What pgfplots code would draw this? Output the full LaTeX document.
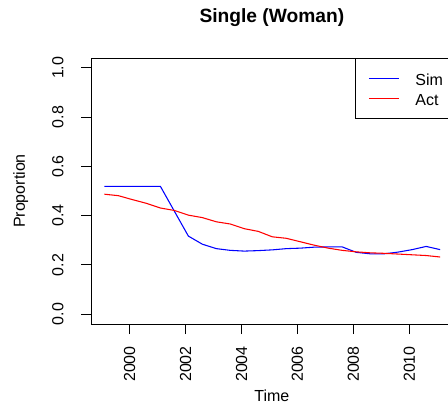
\documentclass[border=0pt]{standalone}
\usepackage{pgfplots}
\usepackage{pgfplotstable}
\pgfplotsset{compat=1.18}
\usepackage{fontspec}
\setmainfont{Liberation Sans}

% half-yearly proportions
\pgfplotstableread{
t      sim   act
1999.1 0.519 0.487
1999.6 0.519 0.481
2000.1 0.519 0.465
2000.6 0.519 0.450
2001.1 0.519 0.431
2001.6 0.418 0.421
2002.1 0.317 0.402
2002.6 0.284 0.392
2003.1 0.266 0.375
2003.6 0.259 0.366
2004.1 0.256 0.347
2004.6 0.258 0.336
2005.1 0.261 0.314
2005.6 0.266 0.308
2006.1 0.268 0.294
2006.6 0.272 0.280
2007.1 0.273 0.268
2007.6 0.273 0.259
2008.1 0.251 0.253
2008.6 0.245 0.249
2009.1 0.245 0.247
2009.6 0.252 0.244
2010.1 0.262 0.241
2010.6 0.275 0.238
2011.1 0.262 0.232
}\single

\begin{document}
\begin{tikzpicture}
\path[use as bounding box] (0,0) rectangle (336pt,303pt);
\clip (0,0) rectangle (336pt,303pt);
\begin{axis}[
  at={(68.25pt,60pt)}, anchor=south west,
  scale only axis,
  width=271.3pt, height=199.5pt,
  xmin=1998.62, xmax=2011.55,
  ymin=-0.04, ymax=1.04,
  xtick={2000,2002,2004,2006,2008,2010},
  xticklabels={2000,2002,2004,2006,2008,2010},
  ytick={0,0.2,0.4,0.6,0.8,1.0},
  yticklabels={0.0,0.2,0.4,0.6,0.8,1.0},
  xtick pos=bottom, ytick pos=left,
  tick align=outside,
  major tick length=7.5pt,
  tick style={black, line width=0.75pt},
  axis line style={line width=0.75pt},
  font=\fontsize{12}{14.4}\selectfont,
  xticklabel style={rotate=90, anchor=east, inner sep=0pt},
  yticklabel style={rotate=90, anchor=south, inner sep=0pt},
  xticklabel shift=9pt,
  yticklabel shift=13pt,
  xlabel={Time},
  xlabel style={at={(axis description cs:0.5,-0.2707)}, anchor=center},
  ylabel={Proportion},
  ylabel style={at={(axis description cs:-0.1944,0.5)}, anchor=center, rotate=0},
  title={Single (Woman)},
  every axis title shift=0pt,
  title style={at={(axis description cs:0.5,1.152)}, anchor=center,
    font=\fontsize{14.4}{17}\selectfont\bfseries},
  legend style={at={(1,1)}, anchor=north east, draw=black, line width=0.75pt,
    inner xsep=7pt, inner ysep=9pt, row sep=3.2pt, column sep=11.5pt,
    nodes={inner sep=0pt, text height=11pt, text depth=1pt},
    font=\fontsize{12}{14.4}\selectfont},
  legend cell align=left,
  legend image code/.code={\path (-2.75pt,0pt);\draw[#1] (0pt,0pt) -- (23pt,0pt);},
]
\addplot[blue, line width=0.8pt] table[x=t, y=sim] {\single};
\addlegendentry{Sim}
\addplot[red, line width=0.8pt] table[x=t, y=act] {\single};
\addlegendentry{Act}
\end{axis}
\end{tikzpicture}
\end{document}
